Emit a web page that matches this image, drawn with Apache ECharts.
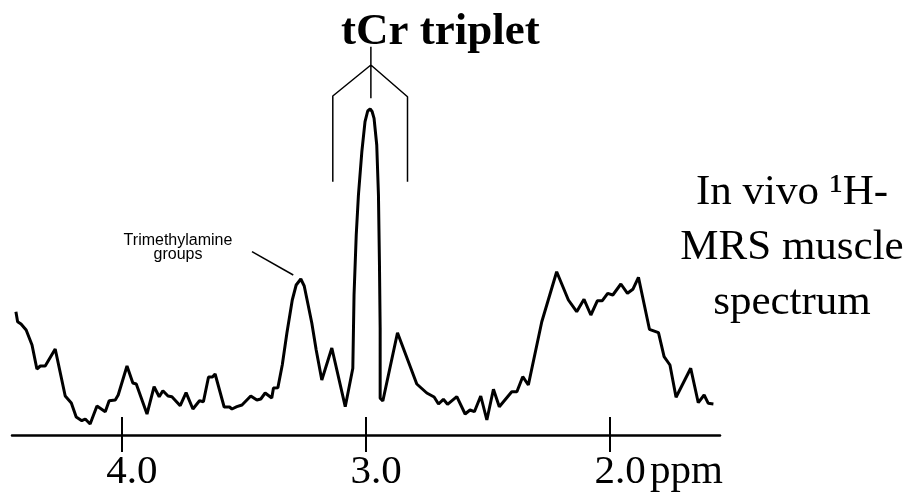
<!DOCTYPE html>
<html>
<head>
<meta charset="utf-8">
<script src="https://cdn.jsdelivr.net/npm/echarts@6/dist/echarts.min.js"></script>
<style>html,body{margin:0;padding:0;background:#fff}#c{width:917px;height:502px}</style>
</head>
<body>
<div id="c"></div>
<script>
// chemical shift (ppm) of spectrum points
const shiftPpm = [4.434,4.427,4.413,4.392,4.368,4.348,4.334,4.314,4.273,4.232,4.207,4.187,4.164,4.150,4.130,4.102,4.068,4.052,4.027,4.015,3.979,3.955,3.941,3.897,3.868,3.847,3.832,3.811,3.795,3.761,3.737,3.709,3.682,3.666,3.645,3.629,3.618,3.581,3.559,3.549,3.529,3.508,3.472,3.447,3.431,3.413,3.386,3.379,3.361,3.343,3.324,3.302,3.286,3.267,3.253,3.237,3.222,3.204,3.181,3.140,3.085,3.054,3.049,3.040,3.031,3.017,3.004,2.993,2.983,2.975,2.967,2.956,2.949,2.945,2.942,2.942,2.931,2.871,2.792,2.751,2.721,2.703,2.683,2.666,2.628,2.594,2.574,2.556,2.530,2.505,2.478,2.454,2.403,2.382,2.358,2.335,2.280,2.219,2.171,2.137,2.107,2.079,2.052,2.032,2.010,1.989,1.956,1.929,1.907,1.884,1.839,1.802,1.779,1.755,1.730,1.670,1.639,1.615,1.598,1.577];
// signal intensity (arbitrary units)
const intensity = [123.3,113.3,111,105,90,66,69,69,86,39,32,18,14.3,16,11,29,23.3,34.3,35,40,69,52,51,21,48.3,38.3,44.3,39,38.3,29.3,42.3,26,34.3,33.3,58,58,61,28,28,26,28.3,30,39,35,36,42,37,47,47.3,70,102,135,150,156,149,130,112,85,55,87,28.3,66.7,140,200,240,283.3,313.3,324,326,323.5,316.7,290,240,173.3,107,36.7,34,102.3,51,42,38,31,35.7,30.7,38.3,21,25,23.3,39,15,45.7,28.3,43.3,43.3,58.3,50,113.3,163.3,135,123.3,135.7,120,134.3,134.3,141.7,140,151,141.7,145.7,157.7,105.7,102.3,78.3,70,37.7,66.7,32.3,40,31.7,31];
// axis tick values
const tickValues = [4.0, 3.0, 2.0];
// tCr triplet bracket (ppm, intensity); null breaks the path
const bracketPpm = [3.136,3.136,2.980,2.830,2.830,null,2.980,2.980];
const bracketVal = [253.3,339,370,338.3,253.3,null,388.3,336.7];
// leader line for the trimethylamine annotation
const leaderPpm = [3.467,3.298];
const leaderVal = [183.3,160];

const zip = (a,b) => a.map((v,i) => (v === null ? [null,null] : [v,b[i]]));
const chart = echarts.init(document.getElementById('c'));
const axisCommon = {type:'value', min:1.55, max:4.45, inverse:true, position:'bottom', splitLine:{show:false}};
chart.setOption({
  backgroundColor:'#fff',
  animation:false,
  title:[
    {text:'tCr triplet', left:336, top:5, textStyle:{fontFamily:'Liberation Serif', fontWeight:'bold', fontSize:45, color:'#000'}},
    {text:'In vivo ¹H-\nMRS muscle\nspectrum', left:787, textAlign:'center', top:160, textStyle:{fontFamily:'Liberation Serif', fontWeight:'normal', fontSize:43, lineHeight:55, color:'#000'}},
    {text:'Trimethylamine\ngroups', left:173, textAlign:'center', top:229, textStyle:{fontFamily:'Liberation Sans', fontWeight:'normal', fontSize:16, lineHeight:14, color:'#000'}}
  ],
  grid:{left:12, right:197, top:35, bottom:67, outerBoundsMode:'none'},
  xAxis:[
    Object.assign({}, axisCommon, {
      axisLine:{show:true, lineStyle:{color:'#000', width:2.5}},
      axisTick:{show:true, inside:true, length:18, customValues:tickValues, lineStyle:{color:'#000', width:2}},
      axisLabel:{show:true, customValues:tickValues, formatter:v => v.toFixed(1), margin:17, padding:[0,0,0,20], fontFamily:'Liberation Serif', fontSize:41, color:'#000'}
    }),
    Object.assign({}, axisCommon, {
      axisLine:{show:false},
      axisTick:{show:true, inside:false, length:17, customValues:tickValues, lineStyle:{color:'#000', width:2}},
      axisLabel:{show:false}
    })
  ],
  yAxis:{type:'value', min:0, max:400, show:false},
  graphic:[{type:'text', left:650, top:452, style:{text:'ppm', font:'41px "Liberation Serif"', fill:'#000'}}],
  series:[
    {type:'line', data:zip(shiftPpm,intensity), symbol:'none', lineStyle:{color:'#000', width:3}, z:3},
    {type:'line', data:zip(bracketPpm,bracketVal), symbol:'none', connectNulls:false, lineStyle:{color:'#000', width:1.5}},
    {type:'line', data:zip(leaderPpm,leaderVal), symbol:'none', lineStyle:{color:'#000', width:1.5}}
  ]
});
</script>
</body>
</html>
